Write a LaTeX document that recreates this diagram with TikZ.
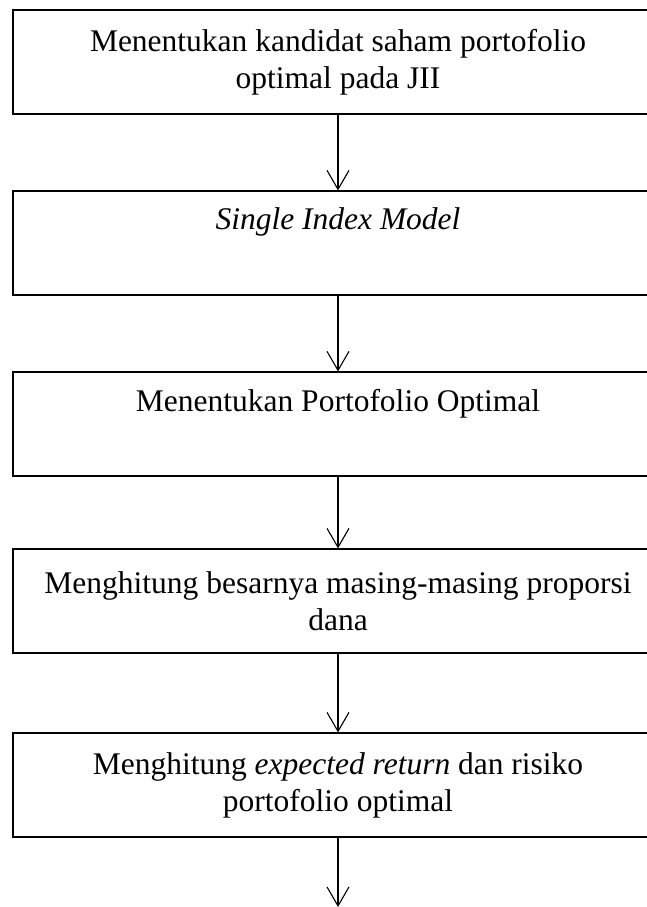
\documentclass[tikz,border=0pt]{standalone}
\usepackage{fontspec}
\setmainfont{Liberation Serif}
\usetikzlibrary{arrows.meta}
\begin{document}
\begin{tikzpicture}[x=1pt,y=-1pt,
  stepbox/.style={draw=black, line width=1.1pt, rectangle, minimum width=650pt,
    minimum height=104pt, inner sep=0pt, align=center,
    font=\fontsize{31.5}{37}\selectfont},
  flow/.style={draw=black, line width=1.1pt, -{Straight Barb[length=19pt,width=22pt,line width=1.1pt]}}]
\useasboundingbox (0,0) rectangle (647,907);
\clip (0,0) rectangle (647,907);
\node[stepbox] (b1) at (338,62) {Menentukan kandidat saham portofolio\\optimal pada JII};
\node[stepbox] (b2) at (338,243) {\textit{Single Index Model}\\\strut};
\node[stepbox] (b3) at (338,424) {Menentukan Portofolio Optimal\\\strut};
\node[stepbox] (b4) at (338,601) {Menghitung besarnya masing-masing proporsi\\dana};
\node[stepbox] (b5) at (338,785) {Menghitung \textit{expected return} dan risiko\\portofolio optimal};
\coordinate (end) at (338,907);
\draw[flow] (b1.south) -- (b2.north);
\draw[flow] (b2.south) -- (b3.north);
\draw[flow] (b3.south) -- (b4.north);
\draw[flow] (b4.south) -- (b5.north);
\draw[flow] (b5.south) -- (end);
\end{tikzpicture}
\end{document}
